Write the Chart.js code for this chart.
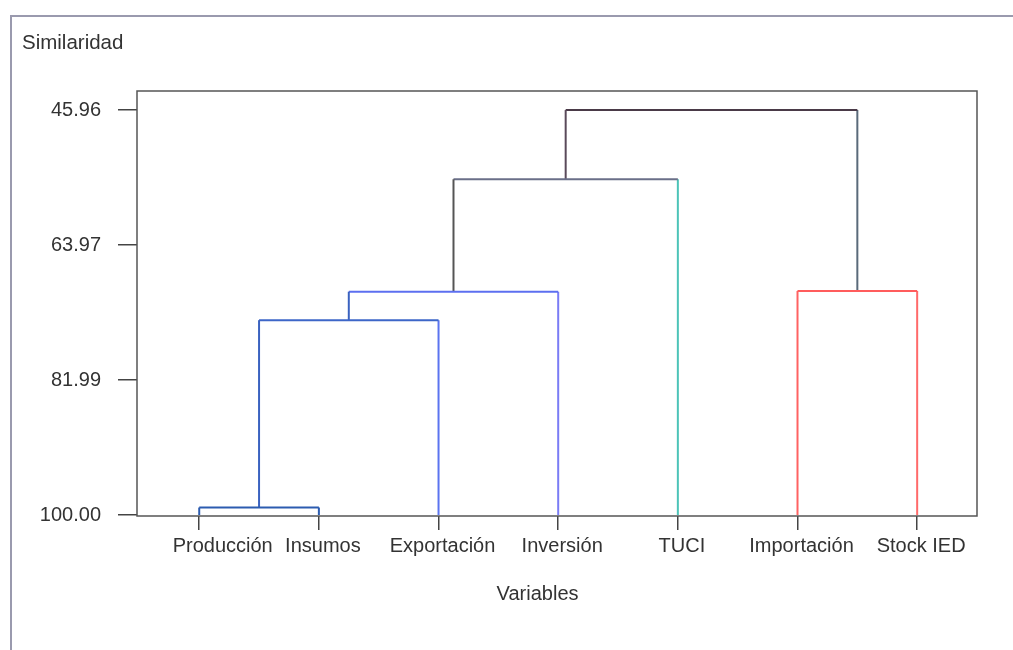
<!DOCTYPE html>
<html>
<head>
<meta charset="utf-8">
<script src="https://cdn.jsdelivr.net/npm/chart.js@4.4.0/dist/chart.umd.min.js"></script>
<style>
  html, body { margin: 0; padding: 0; background: #fff; }
  #wrap { width: 1013px; height: 650px; }
</style>
</head>
<body>
<div id="wrap"><canvas id="dendro" width="1013" height="650"></canvas></div>
<script>
// leaves, in dendrogram order
const variables = ['Producción', 'Insumos', 'Exportación', 'Inversión', 'TUCI', 'Importación', 'Stock IED'];
const leafPos = [1, 2, 3, 4, 5, 6, 7];
const yTicks = [45.96, 63.97, 81.99, 100.00];

// linkage: index < 7 is a leaf, 7+ is the cluster made by that link
const linkLeft = [0, 7, 8, 9, 5, 10];
const linkRight = [1, 2, 3, 4, 6, 11];
const linkHeight = [99.0, 74.0, 70.2, 55.2, 70.1, 45.96];

// colours: left arm, bar, right arm
const linkColors = [
    ['#2c5cb0', '#2c5cb0', '#2c5cb0'],
    ['#3a62c0', '#3d66c8', '#5b74f0'],
    ['#3a62c0', '#5c6ff0', '#7a7cf5'],
    ['#555555', '#6a6f88', '#4cc4b8'],
    ['#ff6262', '#ff5c5c', '#ff6a6a'],
    ['#5a4a5a', '#4a3a48', '#5a6a7a']
];

// node positions
let nodeX = leafPos.slice();
let nodeY = leafPos.map(() => 100);
const datasets = [];
for (let i = 0; i < linkHeight.length; i++) {
    const l = linkLeft[i], r = linkRight[i], h = linkHeight[i];
    const segs = [
        [{x: nodeX[l], y: nodeY[l]}, {x: nodeX[l], y: h}],
        [{x: nodeX[l], y: h}, {x: nodeX[r], y: h}],
        [{x: nodeX[r], y: h}, {x: nodeX[r], y: nodeY[r]}]
    ];
    segs.forEach((pts, k) => {
        datasets.push({
            data: pts,
            borderColor: linkColors[i][k],
            borderWidth: 2,
            pointRadius: 0,
            fill: false,
            tension: 0
        });
    });
    nodeX.push((nodeX[l] + nodeX[r]) / 2);
    nodeY.push(h);
}

const framePlugin = {
    id: 'frame',
    beforeDraw(chart) {
        const c = chart.ctx;
        c.save();
        c.strokeStyle = '#9a9aae';
        c.lineWidth = 2;
        c.beginPath();
        c.moveTo(11, 650);
        c.lineTo(11, 16);
        c.lineTo(1013, 16);
        c.stroke();
        c.fillStyle = '#333';
        c.font = '20.5px "Liberation Sans", Arial, sans-serif';
        c.textBaseline = 'alphabetic';
        c.fillText('Similaridad', 22, 49);
        c.restore();
    },
    afterDraw(chart) {
        const a = chart.chartArea;
        const c = chart.ctx;
        c.save();
        c.strokeStyle = '#555';
        c.lineWidth = 1.5;
        c.strokeRect(a.left, a.top, a.right - a.left, a.bottom - a.top);
        c.restore();
    }
};

const font = { family: '"Liberation Sans", Arial, sans-serif', size: 20 };

new Chart(document.getElementById('dendro').getContext('2d'), {
    type: 'line',
    data: { datasets: datasets },
    plugins: [framePlugin],
    options: {
        responsive: false,
        animation: false,
        layout: { padding: { left: 22, right: 36, top: 91, bottom: 0 } },
        plugins: { legend: { display: false }, tooltip: { enabled: false } },
        scales: {
            x: {
                type: 'linear',
                min: 0.48,
                max: 7.5,
                afterBuildTicks: s => { s.ticks = leafPos.map(v => ({ value: v })); },
                afterFit: s => { s.height = 134; },
                ticks: {
                    // first label sits shifted right, clear of the frame
                    callback: v => {
                        const i = leafPos.indexOf(v);
                        return i === 0 ? '       ' + variables[i] : (variables[i] || '');
                    },
                    color: '#333',
                    font: font,
                    padding: 4,
                    labelOffset: 4,
                    maxRotation: 0,
                    autoSkip: false
                },
                grid: { drawOnChartArea: false, tickLength: 14, color: '#444', lineWidth: 1.5 },
                border: { display: false },
                // trailing spaces pull the title a little left of centre
                title: { display: true, text: 'Variables       ', color: '#333', font: font, padding: { top: 0, bottom: 44 } }
            },
            y: {
                type: 'linear',
                reverse: true,
                min: 43.42,
                max: 100.13,
                afterBuildTicks: s => { s.ticks = yTicks.map(v => ({ value: v })); },
                afterFit: s => { s.width = 115; },
                ticks: {
                    callback: v => v.toFixed(2),
                    color: '#333',
                    font: font,
                    padding: 17
                },
                grid: { drawOnChartArea: false, tickLength: 19, color: '#444', lineWidth: 1.5 },
                border: { display: false }
            }
        }
    }
});
</script>
</body>
</html>
